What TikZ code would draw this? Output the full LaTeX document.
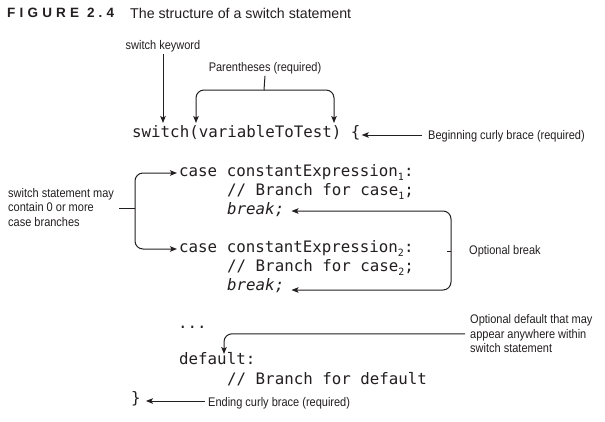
\documentclass[tikz,border=0pt]{standalone}
\usepackage{fontspec}
\setmainfont{Liberation Sans}
\newfontfamily\codefont{DejaVu Sans Mono}
\newfontfamily\lblfont[FakeStretch=0.88]{Liberation Sans}
\newfontfamily\figfont[LetterSpace=31]{Liberation Sans}
\usetikzlibrary{arrows.meta}
\definecolor{ink}{HTML}{231F20}
\tikzset{
  code/.style={anchor=mid west, inner sep=0pt, text=ink,
    font=\codefont\fontsize{15.8}{19}\selectfont},
  lbl/.style={inner sep=0pt, text=ink, align=left,
    font=\lblfont\fontsize{12.5}{14.7}\selectfont},
  conn/.style={draw=ink, line width=1pt, rounded corners=8pt},
  arr/.style={conn, -{Stealth[length=7pt,width=5.5pt,inset=1.5pt]}},
}
\newcommand{\sbs}[1]{\raisebox{-0.25em}{\fontsize{10}{10}\selectfont #1}}
\begin{document}
\begin{tikzpicture}[x=1pt,y=-1pt]
\useasboundingbox[fill=white] (0,0) rectangle (605,421);
% title
\node[anchor=base west, inner sep=0pt, text=ink,
  font=\figfont\bfseries\fontsize{13.5}{15}\selectfont] (fig) at (7,17.5) {FIGURE 2.4};
\node[anchor=base west, inner sep=0pt, text=ink,
  font=\fontsize{14.2}{16}\selectfont] (title) at (130,18) {The structure of a switch statement};
% code
\node[code] (sw) at (132,135) {switch(variableToTest) \{};
\node[code] (c1) at (179,174) {case constantExpression\sbs{1}:};
\node[code] (r1) at (227,192.5) {// Branch for case\sbs{1};};
\node[code] (b1) at (227,211.5) {\itshape break;};
\node[code] (c2) at (179,250) {case constantExpression\sbs{2}:};
\node[code] (r2) at (227,268.5) {// Branch for case\sbs{2};};
\node[code] (b2) at (227,287.5) {\itshape break;};
\node[code, anchor=base west] (dots) at (178,328.5) {...};
\node[code] (df) at (179,362) {default:};
\node[code] (rd) at (227,381.5) {// Branch for default};
\node[code] (cl) at (131,400.5) {\}};
% labels
\node[lbl, anchor=mid] (kw) at (163,46.7) {switch keyword};
\node[lbl, anchor=mid] (par) at (265,68.4) {Parentheses (required)};
\node[lbl, anchor=mid west] (beg) at (428,136.7) {Beginning curly brace (required)};
\node[lbl, anchor=north west] (sl) at (8,188) {switch statement may\\contain 0 or more\\case branches};
\node[lbl, anchor=mid west] (ob) at (469,251.7) {Optional break};
\node[lbl, anchor=north west] (od) at (470,314.3) {Optional default that may\\appear anywhere within\\switch statement};
\node[lbl, anchor=mid west] (en) at (208,403.4) {Ending curly brace (required)};
% connector points
\coordinate (kwtip) at (163,123);
\coordinate (pbar) at (264,90);
\coordinate (pl) at (196,123);
\coordinate (pr) at (334,123);
\coordinate (lb) at (135,208);
\coordinate (ob) at (451,251);
\coordinate (dtip) at (224,354);
% connectors
\draw[arr] ([yshift=-2pt]kw.south) -- (kwtip);
\draw[conn] ([yshift=-2pt]par.south) -- (pbar);
\draw[arr] (pbar) -| (pl);
\draw[arr] (pbar) -| (pr);
\draw[arr] ([xshift=-6pt]beg.west |- 0,135) -- ([xshift=1pt]sw.east |- 0,135);
\draw[conn] ([xshift=5pt]sl.east |- lb) -- (lb);
\draw[arr] (lb) |- ([xshift=-2pt]c1.west |- 0,173);
\draw[arr] (lb) |- ([xshift=-2pt]c2.west |- 0,249);
\draw[conn] ([xshift=-4pt]ob.west |- ob) -- (ob);
\draw[arr] (ob) |- ([xshift=7pt]b1.east |- 0,211);
\draw[arr] (ob) |- ([xshift=7pt]b2.east |- 0,290);
\draw[arr] ([xshift=-5pt]od.west) -| (dtip);
\draw[arr] ([xshift=-3pt]en.west |- 0,401) -- ([xshift=5pt]cl.east |- 0,401);
\end{tikzpicture}
\end{document}
